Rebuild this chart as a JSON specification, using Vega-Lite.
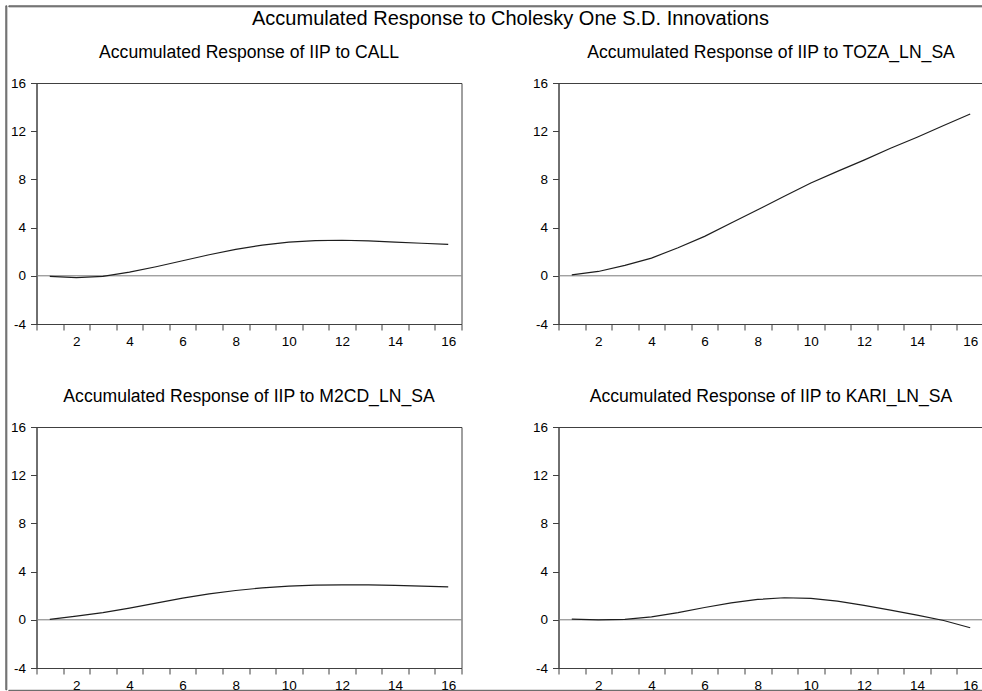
{
  "$schema": "https://vega.github.io/schema/vega-lite/v6.json",
  "background": "white",
  "padding": {"left": 4.5, "top": 4.5, "right": 0, "bottom": 0},
  "datasets": {
    "irf": [
      {"shock": "CALL", "period": 1, "value": -0.05},
      {"shock": "CALL", "period": 2, "value": -0.15},
      {"shock": "CALL", "period": 3, "value": -0.05},
      {"shock": "CALL", "period": 4, "value": 0.3},
      {"shock": "CALL", "period": 5, "value": 0.75},
      {"shock": "CALL", "period": 6, "value": 1.25},
      {"shock": "CALL", "period": 7, "value": 1.75},
      {"shock": "CALL", "period": 8, "value": 2.2},
      {"shock": "CALL", "period": 9, "value": 2.55},
      {"shock": "CALL", "period": 10, "value": 2.8},
      {"shock": "CALL", "period": 11, "value": 2.92},
      {"shock": "CALL", "period": 12, "value": 2.95},
      {"shock": "CALL", "period": 13, "value": 2.9},
      {"shock": "CALL", "period": 14, "value": 2.8},
      {"shock": "CALL", "period": 15, "value": 2.7},
      {"shock": "CALL", "period": 16, "value": 2.6},
      {"shock": "TOZA", "period": 1, "value": 0.08},
      {"shock": "TOZA", "period": 2, "value": 0.36},
      {"shock": "TOZA", "period": 3, "value": 0.86},
      {"shock": "TOZA", "period": 4, "value": 1.47},
      {"shock": "TOZA", "period": 5, "value": 2.33},
      {"shock": "TOZA", "period": 6, "value": 3.27},
      {"shock": "TOZA", "period": 7, "value": 4.38},
      {"shock": "TOZA", "period": 8, "value": 5.48},
      {"shock": "TOZA", "period": 9, "value": 6.6},
      {"shock": "TOZA", "period": 10, "value": 7.7},
      {"shock": "TOZA", "period": 11, "value": 8.67},
      {"shock": "TOZA", "period": 12, "value": 9.6},
      {"shock": "TOZA", "period": 13, "value": 10.58},
      {"shock": "TOZA", "period": 14, "value": 11.5},
      {"shock": "TOZA", "period": 15, "value": 12.47},
      {"shock": "TOZA", "period": 16, "value": 13.43},
      {"shock": "M2CD", "period": 1, "value": 0.03},
      {"shock": "M2CD", "period": 2, "value": 0.3},
      {"shock": "M2CD", "period": 3, "value": 0.6},
      {"shock": "M2CD", "period": 4, "value": 0.97},
      {"shock": "M2CD", "period": 5, "value": 1.38},
      {"shock": "M2CD", "period": 6, "value": 1.8},
      {"shock": "M2CD", "period": 7, "value": 2.15},
      {"shock": "M2CD", "period": 8, "value": 2.43},
      {"shock": "M2CD", "period": 9, "value": 2.65},
      {"shock": "M2CD", "period": 10, "value": 2.8},
      {"shock": "M2CD", "period": 11, "value": 2.88},
      {"shock": "M2CD", "period": 12, "value": 2.9},
      {"shock": "M2CD", "period": 13, "value": 2.9},
      {"shock": "M2CD", "period": 14, "value": 2.85},
      {"shock": "M2CD", "period": 15, "value": 2.8},
      {"shock": "M2CD", "period": 16, "value": 2.74},
      {"shock": "KARI", "period": 1, "value": 0.05},
      {"shock": "KARI", "period": 2, "value": 0.0},
      {"shock": "KARI", "period": 3, "value": 0.03},
      {"shock": "KARI", "period": 4, "value": 0.25},
      {"shock": "KARI", "period": 5, "value": 0.6},
      {"shock": "KARI", "period": 6, "value": 1.02},
      {"shock": "KARI", "period": 7, "value": 1.41},
      {"shock": "KARI", "period": 8, "value": 1.69},
      {"shock": "KARI", "period": 9, "value": 1.83},
      {"shock": "KARI", "period": 10, "value": 1.77},
      {"shock": "KARI", "period": 11, "value": 1.55},
      {"shock": "KARI", "period": 12, "value": 1.19},
      {"shock": "KARI", "period": 13, "value": 0.8},
      {"shock": "KARI", "period": 14, "value": 0.39},
      {"shock": "KARI", "period": 15, "value": -0.06},
      {"shock": "KARI", "period": 16, "value": -0.66}
    ]
  },
  "config": {
    "font": "Liberation Sans",
    "view": {"stroke": "#404040", "strokeWidth": 1},
    "title": {"font": "Liberation Sans", "fontWeight": "normal", "color": "#000000"},
    "axis": {
      "grid": false,
      "title": null,
      "domainColor": "#404040",
      "domainWidth": 1,
      "tickColor": "#404040",
      "tickWidth": 1,
      "tickSize": 6,
      "labelFont": "Liberation Sans",
      "labelFontSize": 13.5,
      "labelColor": "#000000",
      "labelPadding": 5,
      "labelOverlap": false,
      "labelFlush": false,
      "labelBound": false
    }
  },
  "spacing": 0,
  "hconcat": [
    {
      "width": 1,
      "height": 684,
      "view": {"stroke": "#303030", "strokeWidth": 0.8},
      "data": {"values": []},
      "mark": {"type": "point"},
      "encoding": {}
    },
    {
      "columns": 1,
      "align": "none",
      "spacing": 13.5,
      "concat": [
        {
          "width": 1004,
          "height": 1,
          "view": {"stroke": "#303030", "strokeWidth": 0.8},
          "title": {"text": "Accumulated Response to Cholesky One S.D. Innovations", "orient": "bottom", "fontSize": 20, "anchor": "middle", "frame": "group", "baseline": "alphabetic", "offset": 18},
          "data": {"values": []},
          "mark": {"type": "point"},
          "encoding": {}
        },
        {
          "columns": 1,
          "align": "none",
          "spacing": -3,
          "concat": [
            {
              "spacing": 0,
              "hconcat": [
                {
                  "width": 1,
                  "height": 1,
                  "view": {"stroke": null},
                  "data": {"values": []},
                  "mark": {"type": "point"},
                  "encoding": {}
                },
                {
                  "columns": 2,
                  "bounds": "flush",
                  "spacing": {"row": 103, "column": 97},
                  "concat": [
                    {
                      "width": 425, "height": 241,
                      "title": {"text": "Accumulated Response of IIP to CALL", "fontSize": 17.6, "anchor": "middle", "frame": "group", "baseline": "alphabetic", "offset": 0},
                      "layer": [
                        {
                          "data": {"values": [{"level": 0}]},
                          "mark": {"type": "rule", "color": "#7a7a7a", "strokeWidth": 1},
                          "encoding": {"y": {"field": "level", "type": "quantitative", "scale": {"domain": [-4, 16], "nice": false, "zero": false}}}
                        },
                        {
                          "data": {"name": "irf"},
                          "transform": [{"filter": "datum.shock === 'CALL'"}],
                          "mark": {"type": "line", "color": "#1e1e1e", "strokeWidth": 1.2},
                          "encoding": {
                            "x": {"field": "period", "type": "quantitative", "scale": {"domain": [0.5, 16.5], "nice": false, "zero": false},
                                  "axis": {"values": [0.5, 1.5, 2.5, 3.5, 4.5, 5.5, 6.5, 7.5, 8.5, 9.5, 10.5, 11.5, 12.5, 13.5, 14.5, 15.5, 16.5], "labelExpr": "(datum.value + 0.5) % 2 === 0 ? format(datum.value + 0.5, 'd') : ''", "labelOffset": 13.28, "labelPadding": 4}},
                            "y": {"field": "value", "type": "quantitative", "scale": {"domain": [-4, 16], "nice": false, "zero": false},
                                  "axis": {"values": [-4, 0, 4, 8, 12, 16], "labelExpr": "datum.value < 0 ? '-' + abs(datum.value) : '' + datum.value", "minExtent": 26.5}}
                          }
                        }
                      ]
                    },
                    {
                      "width": 425, "height": 241,
                      "title": {"text": "Accumulated Response of IIP to TOZA_LN_SA", "fontSize": 17.6, "anchor": "middle", "frame": "group", "baseline": "alphabetic", "offset": 0},
                      "layer": [
                        {
                          "data": {"values": [{"level": 0}]},
                          "mark": {"type": "rule", "color": "#7a7a7a", "strokeWidth": 1},
                          "encoding": {"y": {"field": "level", "type": "quantitative", "scale": {"domain": [-4, 16], "nice": false, "zero": false}}}
                        },
                        {
                          "data": {"name": "irf"},
                          "transform": [{"filter": "datum.shock === 'TOZA'"}],
                          "mark": {"type": "line", "color": "#1e1e1e", "strokeWidth": 1.2},
                          "encoding": {
                            "x": {"field": "period", "type": "quantitative", "scale": {"domain": [0.5, 16.5], "nice": false, "zero": false},
                                  "axis": {"values": [0.5, 1.5, 2.5, 3.5, 4.5, 5.5, 6.5, 7.5, 8.5, 9.5, 10.5, 11.5, 12.5, 13.5, 14.5, 15.5, 16.5], "labelExpr": "(datum.value + 0.5) % 2 === 0 ? format(datum.value + 0.5, 'd') : ''", "labelOffset": 13.28, "labelPadding": 4}},
                            "y": {"field": "value", "type": "quantitative", "scale": {"domain": [-4, 16], "nice": false, "zero": false},
                                  "axis": {"values": [-4, 0, 4, 8, 12, 16], "labelExpr": "datum.value < 0 ? '-' + abs(datum.value) : '' + datum.value"}}
                          }
                        }
                      ]
                    },
                    {
                      "width": 425, "height": 241,
                      "title": {"text": "Accumulated Response of IIP to M2CD_LN_SA", "fontSize": 17.6, "anchor": "middle", "frame": "group", "baseline": "alphabetic", "offset": 0},
                      "layer": [
                        {
                          "data": {"values": [{"level": 0}]},
                          "mark": {"type": "rule", "color": "#7a7a7a", "strokeWidth": 1},
                          "encoding": {"y": {"field": "level", "type": "quantitative", "scale": {"domain": [-4, 16], "nice": false, "zero": false}}}
                        },
                        {
                          "data": {"name": "irf"},
                          "transform": [{"filter": "datum.shock === 'M2CD'"}],
                          "mark": {"type": "line", "color": "#1e1e1e", "strokeWidth": 1.2},
                          "encoding": {
                            "x": {"field": "period", "type": "quantitative", "scale": {"domain": [0.5, 16.5], "nice": false, "zero": false},
                                  "axis": {"values": [0.5, 1.5, 2.5, 3.5, 4.5, 5.5, 6.5, 7.5, 8.5, 9.5, 10.5, 11.5, 12.5, 13.5, 14.5, 15.5, 16.5], "labelExpr": "(datum.value + 0.5) % 2 === 0 ? format(datum.value + 0.5, 'd') : ''", "labelOffset": 13.28, "labelPadding": 4}},
                            "y": {"field": "value", "type": "quantitative", "scale": {"domain": [-4, 16], "nice": false, "zero": false},
                                  "axis": {"values": [-4, 0, 4, 8, 12, 16], "labelExpr": "datum.value < 0 ? '-' + abs(datum.value) : '' + datum.value", "minExtent": 26.5}}
                          }
                        }
                      ]
                    },
                    {
                      "width": 425, "height": 241,
                      "title": {"text": "Accumulated Response of IIP to KARI_LN_SA", "fontSize": 17.6, "anchor": "middle", "frame": "group", "baseline": "alphabetic", "offset": 0},
                      "layer": [
                        {
                          "data": {"values": [{"level": 0}]},
                          "mark": {"type": "rule", "color": "#7a7a7a", "strokeWidth": 1},
                          "encoding": {"y": {"field": "level", "type": "quantitative", "scale": {"domain": [-4, 16], "nice": false, "zero": false}}}
                        },
                        {
                          "data": {"name": "irf"},
                          "transform": [{"filter": "datum.shock === 'KARI'"}],
                          "mark": {"type": "line", "color": "#1e1e1e", "strokeWidth": 1.2},
                          "encoding": {
                            "x": {"field": "period", "type": "quantitative", "scale": {"domain": [0.5, 16.5], "nice": false, "zero": false},
                                  "axis": {"values": [0.5, 1.5, 2.5, 3.5, 4.5, 5.5, 6.5, 7.5, 8.5, 9.5, 10.5, 11.5, 12.5, 13.5, 14.5, 15.5, 16.5], "labelExpr": "(datum.value + 0.5) % 2 === 0 ? format(datum.value + 0.5, 'd') : ''", "labelOffset": 13.28, "labelPadding": 4}},
                            "y": {"field": "value", "type": "quantitative", "scale": {"domain": [-4, 16], "nice": false, "zero": false},
                                  "axis": {"values": [-4, 0, 4, 8, 12, 16], "labelExpr": "datum.value < 0 ? '-' + abs(datum.value) : '' + datum.value"}}
                          }
                        }
                      ]
                    }
                  ]
                }
              ]
            },
            {
              "width": 1004,
              "height": 1,
              "view": {"stroke": "#303030", "strokeWidth": 0.8},
              "data": {"values": []},
              "mark": {"type": "point"},
              "encoding": {}
            }
          ]
        }
      ]
    }
  ]
}
